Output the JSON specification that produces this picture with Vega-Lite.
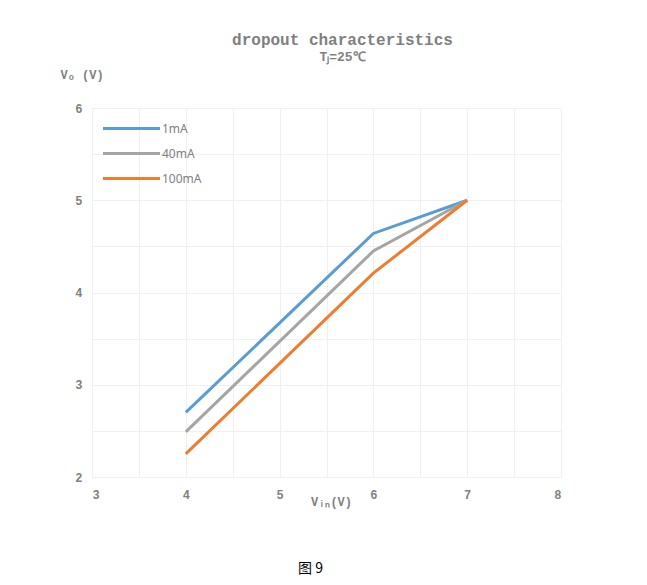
{
  "$schema": "https://vega.github.io/schema/vega-lite/v6.json",
  "padding": {"left": 60, "top": 32, "right": 10, "bottom": 5},
  "background": "white",
  "title": {"text": "图 9", "orient": "bottom", "anchor": "middle", "font": "Noto Sans CJK SC", "fontSize": 14, "fontWeight": "normal", "color": "#000000", "offset": 55},
  "config": {"view": {"stroke": null}},
  "vconcat": [
    {
      "width": 469,
      "height": 369,
      "title": {"text": "dropout characteristics", "subtitle": "Tⱼ=25℃", "anchor": "middle", "dx": 16, "offset": 4, "font": "Liberation Mono", "fontSize": 16, "fontWeight": "bold", "color": "#808080", "subtitleFont": "Liberation Mono", "subtitleFontSize": 13, "subtitleFontWeight": "bold", "subtitleColor": "#808080", "subtitlePadding": 3},
      "data": {"values": [
        {"vin": 4, "vo": 2.70, "load": "1mA"},
        {"vin": 6, "vo": 4.64, "load": "1mA"},
        {"vin": 7, "vo": 5.00, "load": "1mA"},
        {"vin": 4, "vo": 2.49, "load": "40mA"},
        {"vin": 6, "vo": 4.45, "load": "40mA"},
        {"vin": 7, "vo": 5.00, "load": "40mA"},
        {"vin": 4, "vo": 2.25, "load": "100mA"},
        {"vin": 6, "vo": 4.21, "load": "100mA"},
        {"vin": 7, "vo": 5.00, "load": "100mA"}
      ]},
      "mark": {"type": "line", "strokeWidth": 3},
      "encoding": {
        "x": {"field": "vin", "type": "quantitative", "scale": {"domain": [3, 8], "nice": false},
          "axis": {"values": [3, 3.5, 4, 4.5, 5, 5.5, 6, 6.5, 7, 7.5, 8], "labelExpr": "datum.value % 1 == 0 ? format(datum.value, 'd') : ''", "title": "Vᵢₙ(V)", "titleX": 239, "titleY": 24, "titleBaseline": "middle", "titleAlign": "center", "titleFont": "Liberation Mono", "titleFontSize": 12, "titleFontWeight": "bold", "titleColor": "#808080", "labelFont": "Liberation Mono", "labelFontSize": 12, "labelFontWeight": "bold", "labelColor": "#808080", "labelPadding": 12, "labelOverlap": false, "ticks": false, "domain": false, "grid": true, "gridColor": "#f0f0f0", "gridWidth": 1}},
        "y": {"field": "vo", "type": "quantitative", "scale": {"domain": [2, 6], "nice": false},
          "axis": {"values": [2, 2.5, 3, 3.5, 4, 4.5, 5, 5.5, 6], "labelExpr": "datum.value % 1 == 0 ? format(datum.value, 'd') : ''", "title": "Vₒ (V)", "titleAngle": 0, "titleX": -32, "titleY": -34, "titleAlign": "left", "titleBaseline": "middle", "titleFont": "Liberation Mono", "titleFontSize": 12, "titleFontWeight": "bold", "titleColor": "#808080", "labelFont": "Liberation Mono", "labelFontSize": 12, "labelFontWeight": "bold", "labelColor": "#808080", "labelPadding": 10, "labelOverlap": false, "ticks": false, "domain": false, "grid": true, "gridColor": "#f0f0f0", "gridWidth": 1}},
        "color": {"field": "load", "type": "nominal", "sort": ["1mA", "40mA", "100mA"],
          "scale": {"domain": ["1mA", "40mA", "100mA"], "range": ["#5B9BD5", "#A5A5A5", "#ED7D31"]},
          "legend": {"title": null, "orient": "none", "legendX": 32, "legendY": 13, "symbolType": "M-5,0H5", "symbolSize": 130, "symbolStrokeWidth": 3, "rowPadding": 11, "labelOffset": 23, "labelFont": "Noto Sans", "labelFontSize": 12, "labelColor": "#808080"}}
      }
    }
  ]
}
